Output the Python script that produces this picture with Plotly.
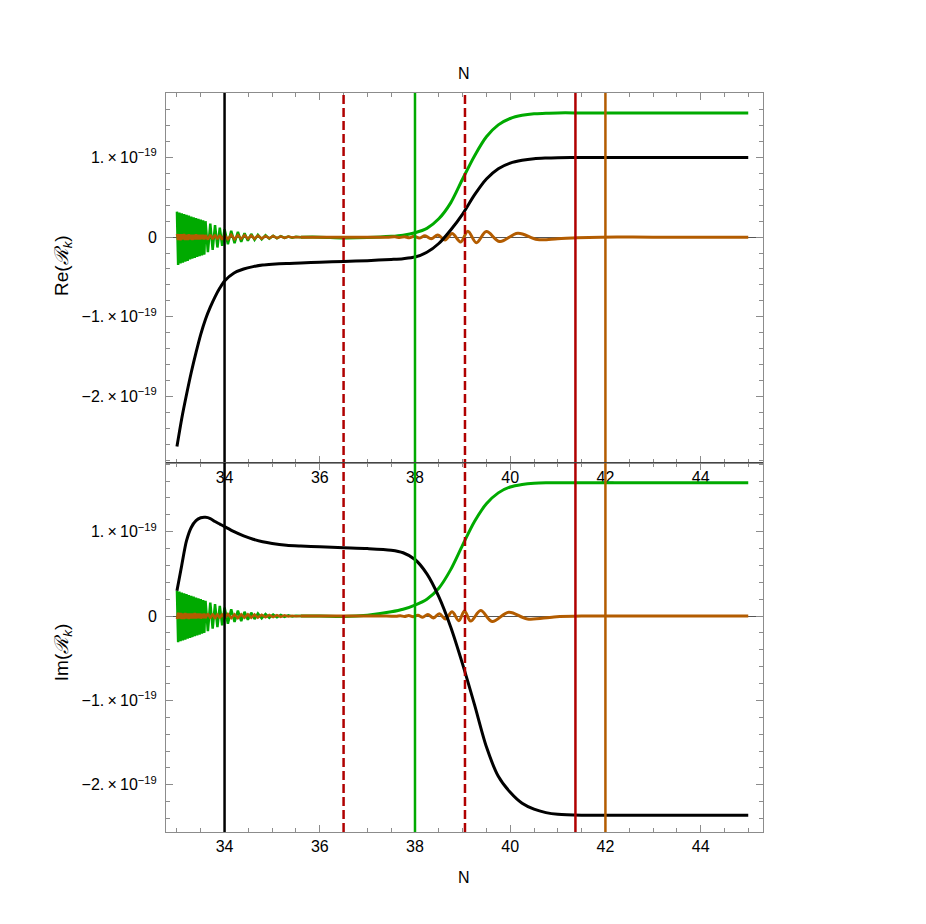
import numpy as np
import plotly.graph_objects as go

# values are in units of 1e-19
UNIT = 1e-19

# early, fast oscillating stretch (shared N grid)
OSC_N = [33.000, 33.025, 33.050, 33.075, 33.100, 33.125, 33.150, 33.175, 33.200, 33.225,
         33.250, 33.275, 33.300, 33.325, 33.350, 33.375, 33.400, 33.425, 33.450, 33.475,
         33.500, 33.525, 33.550, 33.575, 33.600,
         33.65, 33.70, 33.75, 33.80, 33.85, 33.90, 33.95, 34.00,
         34.07, 34.14, 34.21, 34.28, 34.35, 34.42, 34.49, 34.56, 34.63, 34.70, 34.78,
         34.86, 34.94, 35.02, 35.10, 35.18, 35.26, 35.34, 35.42, 35.50, 35.60]

green_re_osc = [0.32, -0.35, 0.31, -0.33, 0.30, -0.32, 0.29, -0.31, 0.28, -0.30,
                0.27, -0.28, 0.26, -0.27, 0.25, -0.26, 0.24, -0.25, 0.23, -0.24,
                0.22, -0.23, 0.21, -0.22, 0.20,
                -0.19, 0.17, -0.16, 0.15, -0.13, 0.12, -0.11, 0.10,
                -0.09, 0.08, -0.075, 0.065, -0.06, 0.05, -0.045, 0.04, -0.035, 0.03, -0.027,
                0.024, -0.02, 0.018, -0.015, 0.012, -0.01, 0.008, -0.006, 0.004, 0.0]
green_im_osc = [0.30, -0.31, 0.29, -0.30, 0.28, -0.29, 0.27, -0.28, 0.26, -0.27,
                0.25, -0.26, 0.24, -0.25, 0.23, -0.24, 0.22, -0.23, 0.21, -0.22,
                0.20, -0.21, 0.19, -0.20, 0.18,
                -0.18, 0.16, -0.15, 0.14, -0.13, 0.12, -0.11, 0.10,
                -0.09, 0.08, -0.07, 0.065, -0.06, 0.05, -0.045, 0.04, -0.035, 0.03, -0.027,
                0.024, -0.02, 0.018, -0.015, 0.012, -0.01, 0.008, -0.006, 0.004, 0.0]
orange_re_osc = [0.04, -0.035, 0.035, -0.04, 0.035, -0.03, 0.04, -0.035, 0.03, -0.035,
                 0.035, -0.03, 0.03, -0.035, 0.03, -0.03, 0.035, -0.03, 0.03, -0.03,
                 0.03, -0.025, 0.03, -0.03, 0.025,
                 -0.03, 0.03, -0.025, 0.03, -0.025, 0.025, -0.03, 0.025,
                 -0.025, 0.03, -0.025, 0.025, -0.02, 0.025, -0.02, 0.02, -0.02, 0.02, -0.018,
                 0.015, -0.015, 0.015, -0.012, 0.01, -0.01, 0.008, -0.005, 0.003, 0.0]
orange_im_osc = [-0.035, 0.04, -0.03, 0.035, -0.035, 0.03, -0.035, 0.035, -0.03, 0.03,
                 -0.035, 0.03, -0.03, 0.03, -0.03, 0.035, -0.03, 0.03, -0.025, 0.03,
                 -0.03, 0.025, -0.025, 0.03, -0.025,
                 0.03, -0.025, 0.025, -0.03, 0.025, -0.025, 0.025, -0.025,
                 0.025, -0.025, 0.02, -0.025, 0.02, -0.02, 0.02, -0.02, 0.018, -0.018, 0.015,
                 -0.015, 0.012, -0.012, 0.01, -0.01, 0.008, -0.006, 0.004, -0.002, 0.0]

# smooth parts of the green curves
TAIL_N = [35.6, 36.0, 36.5, 37.0, 37.5, 37.75, 38.0, 38.25, 38.5, 38.75, 39.0, 39.25,
          39.5, 39.75, 40.0, 40.25, 40.5, 40.75, 41.0, 41.5, 42.0, 43.0, 44.0, 45.0]
green_re_tail = [0.0, 0.0, -0.01, -0.005, 0.01, 0.025, 0.055, 0.11, 0.23, 0.43, 0.73, 1.02,
                 1.26, 1.41, 1.49, 1.53, 1.55, 1.555, 1.56, 1.56, 1.56, 1.56, 1.56, 1.56]
green_im_tail = [0.0, 0.0, -0.005, 0.01, 0.05, 0.08, 0.13, 0.20, 0.33, 0.55, 0.84, 1.12,
                 1.33, 1.46, 1.53, 1.56, 1.575, 1.58, 1.58, 1.58, 1.58, 1.58, 1.58, 1.58]

# black curves
BLACK_N = [33.0, 33.1, 33.2, 33.3, 33.4, 33.5, 33.6, 33.7, 33.8, 33.9, 34.0, 34.2, 34.4,
           34.6, 34.8, 35.0, 35.3, 35.6, 36.0, 36.5, 37.0, 37.5, 37.75, 38.0, 38.25, 38.5,
           38.75, 39.0, 39.25, 39.5, 39.75, 40.0, 40.25, 40.5, 40.75, 41.0, 41.5, 42.0,
           43.0, 44.0, 45.0]
black_re = [-2.63, -2.28, -1.98, -1.70, -1.45, -1.22, -1.03, -0.88, -0.75, -0.64, -0.55, -0.45,
            -0.40, -0.37, -0.35, -0.34, -0.33, -0.325, -0.315, -0.305, -0.295, -0.28, -0.27,
            -0.25, -0.19, -0.08, 0.09, 0.29, 0.53, 0.73, 0.86, 0.93, 0.965, 0.985, 0.993,
            0.997, 1.0, 1.0, 1.0, 1.0, 1.0]
black_im = [0.30, 0.60, 0.89, 1.05, 1.13, 1.165, 1.17, 1.155, 1.12, 1.09, 1.06, 1.00, 0.95,
            0.91, 0.88, 0.86, 0.84, 0.83, 0.82, 0.81, 0.80, 0.78, 0.75, 0.67, 0.50, 0.23,
            -0.13, -0.57, -1.05, -1.55, -1.90, -2.09, -2.22, -2.29, -2.33, -2.35, -2.36,
            -2.36, -2.36, -2.36, -2.36]

# slow orange oscillations (extrema)
ORANGE_RE_N = [35.6, 37.40, 37.58, 37.68, 37.78, 37.88, 37.98, 38.09, 38.21, 38.34, 38.48,
               38.63, 38.78, 38.96, 39.11, 39.29, 39.50, 39.78, 40.16, 40.57, 41.00, 41.40,
               41.90, 43.0, 45.0]
orange_re_tail = [0.0, 0.0, 0.004, -0.005, 0.006, -0.008, 0.01, -0.012, 0.016, -0.02, 0.028,
                  -0.035, 0.045, -0.06, 0.075, -0.07, 0.07, -0.055, 0.05, -0.03, -0.02,
                  -0.008, 0.0, 0.0, 0.0]
ORANGE_IM_N = [35.6, 37.40, 37.60, 37.69, 37.78, 37.87, 37.96, 38.06, 38.16, 38.27, 38.39,
               38.51, 38.64, 38.78, 38.92, 39.04, 39.17, 39.38, 39.62, 39.97, 40.36, 40.92,
               41.50, 43.0, 45.0]
orange_im_tail = [0.0, 0.0, -0.003, 0.004, -0.005, 0.006, -0.008, 0.01, -0.013, 0.017, -0.022,
                  0.028, -0.035, 0.05, -0.055, 0.06, -0.06, 0.065, -0.065, 0.045, -0.035,
                  -0.01, 0.0, 0.0, 0.0]

# vertical markers
VLINE_N = [34.0, 36.5, 38.0, 39.05, 41.37, 42.0]
VLINE_COLOR = ['black', '#b00000', '#00aa00', '#b00000', '#b00000', '#b35c00']
VLINE_DASH = ['solid', '9px,4px', 'solid', '9px,4px', 'solid', 'solid']

GREEN = '#00aa00'
ORANGE = '#b35c00'
FRAME = '#8c8c8c'
FONT = 'Liberation Sans, Arial, sans-serif'


def scaled(vals):
    return np.array(vals) * UNIT


fig = go.Figure()
panels = [('y', green_re_osc, green_re_tail, orange_re_osc, ORANGE_RE_N, orange_re_tail, black_re),
          ('y2', green_im_osc, green_im_tail, orange_im_osc, ORANGE_IM_N, orange_im_tail, black_im)]
for yref, g_osc, g_tail, o_osc, o_n, o_tail, blk in panels:
    xref = 'x' if yref == 'y' else 'x2'
    fig.add_trace(go.Scatter(x=OSC_N, y=scaled(g_osc), mode='lines', line=dict(color=GREEN, width=2.5),
                             xaxis=xref, yaxis=yref))
    fig.add_trace(go.Scatter(x=TAIL_N, y=scaled(g_tail), mode='lines', line=dict(color=GREEN, width=3, shape='spline', smoothing=0.8),
                             xaxis=xref, yaxis=yref))
    fig.add_trace(go.Scatter(x=OSC_N, y=scaled(o_osc), mode='lines', line=dict(color=ORANGE, width=2.5),
                             xaxis=xref, yaxis=yref))
    fig.add_trace(go.Scatter(x=o_n, y=scaled(o_tail), mode='lines', line=dict(color=ORANGE, width=3, shape='spline', smoothing=1),
                             xaxis=xref, yaxis=yref))
    fig.add_trace(go.Scatter(x=BLACK_N, y=scaled(blk), mode='lines', line=dict(color='black', width=3, shape='spline', smoothing=0.8),
                             xaxis=xref, yaxis=yref))

for n, c, d in zip(VLINE_N, VLINE_COLOR, VLINE_DASH):
    fig.add_shape(type='line', xref='x', yref='paper', x0=n, x1=n, y0=0, y1=1,
                  line=dict(color=c, width=2.5, dash=d), layer='above')

# middle frame line
fig.add_shape(type='line', xref='paper', yref='paper', x0=0, x1=1, y0=0.5, y1=0.5,
              line=dict(color='#444444', width=1), layer='above')

xcommon = dict(range=[32.77, 45.31], tick0=34, dtick=2, ticks='inside', ticklen=7, tickcolor=FRAME,
               showline=True, linecolor=FRAME, linewidth=1, mirror='ticks', showgrid=False, zeroline=False,
               minor=dict(tick0=33, dtick=0.5, ticks='inside', ticklen=4, tickcolor=FRAME),
               tickfont=dict(size=16, color='black', family=FONT))
sup = '<sup>\u221219</sup>'
ycommon = dict(tickvals=[-2 * UNIT, -1 * UNIT, 0, 1 * UNIT],
               ticktext=['\u22122.\u2009\u00d7\u200910' + sup, '\u22121.\u2009\u00d7\u200910' + sup,
                         '0', '1.\u2009\u00d7\u200910' + sup],
               ticks='inside', ticklen=7, tickcolor=FRAME, showline=True, linecolor=FRAME, linewidth=1,
               mirror='ticks', showgrid=False, zeroline=True, zerolinecolor='#555555', zerolinewidth=1,
               minor=dict(tickmode='linear', tick0=0, dtick=0.2 * UNIT, ticks='inside', ticklen=4, tickcolor=FRAME),
               tickfont=dict(size=16, color='black', family=FONT), ticklabelstandoff=5)

# the page adds ~7 px of body offset, so the margins are shifted to keep the frame in place
fig.update_layout(
    width=926, height=924, template='plotly_white', showlegend=False,
    plot_bgcolor='white', paper_bgcolor='white',
    margin=dict(l=158, r=171, t=85, b=100),
    font=dict(family=FONT, size=16, color='black'),
    xaxis=dict(domain=[0, 1], anchor='y', **xcommon),
    yaxis=dict(domain=[0.5, 1], anchor='x', range=[-2.83 * UNIT, 1.81 * UNIT], **ycommon),
    xaxis2=dict(domain=[0, 1], anchor='y2', **xcommon),
    yaxis2=dict(domain=[0, 0.5], anchor='x2', range=[-2.56 * UNIT, 1.82 * UNIT], **ycommon),
)

fig.add_annotation(text='N', xref='paper', yref='paper', x=0.499, y=1.027, yanchor='middle',
                   showarrow=False, font=dict(size=16))
fig.add_annotation(text='N', xref='paper', yref='paper', x=0.499, y=-0.062, yanchor='middle',
                   showarrow=False, font=dict(size=16))
fig.add_annotation(text='Re(<i>\u211b</i><sub><i>k</i></sub>)', xref='paper', yref='paper', x=-0.1725, y=0.766,
                   xanchor='center', yanchor='middle', textangle=-90, showarrow=False, font=dict(size=19))
fig.add_annotation(text='Im(<i>\u211b</i><sub><i>k</i></sub>)', xref='paper', yref='paper', x=-0.1725, y=0.242,
                   xanchor='center', yanchor='middle', textangle=-90, showarrow=False, font=dict(size=19))

fig.write_html("out.html")
